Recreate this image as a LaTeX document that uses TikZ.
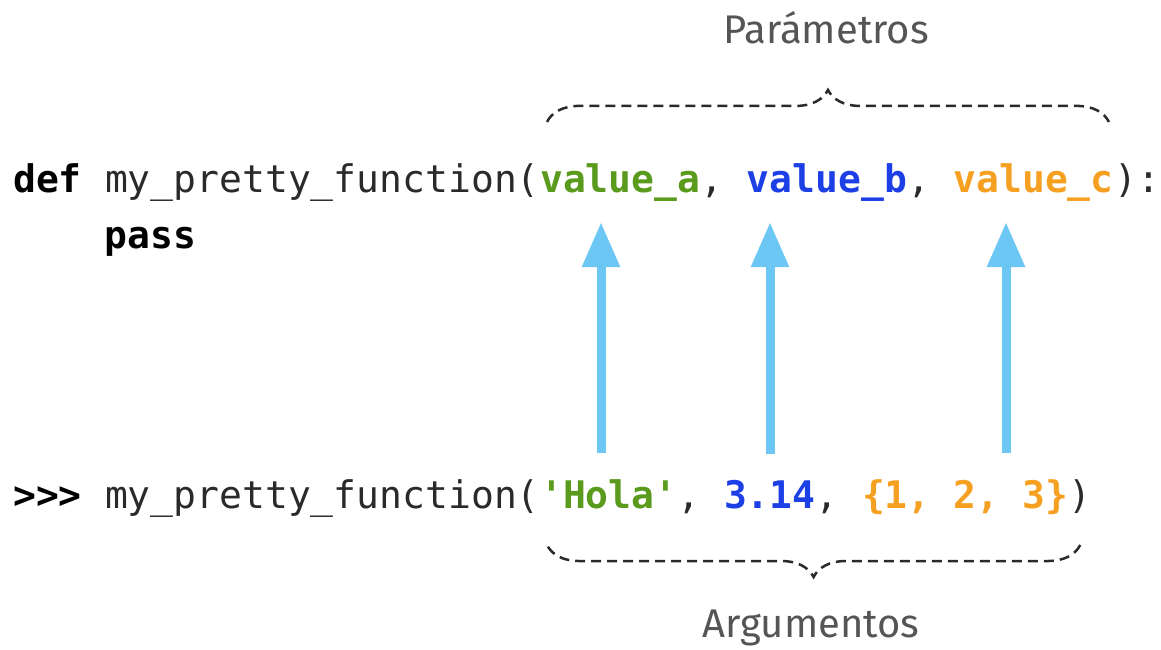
\documentclass[tikz,border=0pt]{standalone}
\usepackage{fontspec}
\newfontfamily\codefont{DejaVu Sans Mono}
\newfontfamily\handfont{Fira Sans}
\usepackage{xcolor}
\usepackage{tikz}
\usetikzlibrary{arrows.meta,positioning,calc,decorations.pathreplacing}

\definecolor{pgreen}{HTML}{5A9A1C}
\definecolor{pblue}{HTML}{1C3FE6}
\definecolor{porange}{HTML}{F6A021}
\definecolor{sky}{HTML}{6CC7F4}
\definecolor{ink}{HTML}{2A2A2A}
\definecolor{note}{HTML}{555555}

\begin{document}
\begin{tikzpicture}[x=1pt, y=-1pt,
code/.style={inner sep=0pt, anchor=base west, text=ink, font=\codefont\fontsize{38}{46}\selectfont},
kw/.style={code, text=black, font=\codefont\bfseries\fontsize{38}{46}\selectfont},
pa/.style={kw, text=pgreen},
pb/.style={kw, text=pblue},
pc/.style={kw, text=porange},
flow/.style={-{Triangle[width=36pt,length=45pt]}, line width=9pt, draw=sky, shorten <=26pt, shorten >=21pt},
brc/.style={decorate, decoration={brace, amplitude=32pt, aspect=0.5}, draw=ink, line width=2.5pt, dash pattern=on 10pt off 6pt},
hand/.style={inner sep=0pt, anchor=base, text=note, font=\handfont\fontsize{40}{48}\selectfont}
]
\useasboundingbox (0,0) rectangle (1161,649);
% Create the definition
\node[kw] (kwdef) at (13,192) {def};
\node[code, base right=0pt of kwdef] (fdef) {\hphantom{x}my\_pretty\_function(};
\node[pa, base right=0pt of fdef] (vala) {value\_a};
\node[code, base right=0pt of vala] (sepa) {,\hphantom{x}};
\node[pb, base right=0pt of sepa] (valb) {value\_b};
\node[code, base right=0pt of valb] (sepb) {,\hphantom{x}};
\node[pc, base right=0pt of sepb] (valc) {value\_c};
\node[code, base right=0pt of valc] (cdef) {):};
\node[kw] (kwpass) at (104.6,248) {pass};
% Create the call
\node[kw] (prompt) at (13,508) {>{}>{}>};
\node[code, base right=0pt of prompt] (fcall) {\hphantom{x}my\_pretty\_function(};
\node[pa, base right=0pt of fcall] (hola) {\textquotesingle Hola\textquotesingle};
\node[code, base right=0pt of hola] (sepc) {,\hphantom{x}};
\node[pb, base right=0pt of sepc] (argb) {3.14};
\node[code, base right=0pt of argb] (sepd) {,\hphantom{x}};
\node[pc, base right=0pt of sepd] (argc) {\{1, 2, 3\}};
\node[code, base right=0pt of argc] (ccall) {)};
% Create the arrows
\coordinate (xa) at (601,0); \coordinate (xb) at (770,0); \coordinate (xc) at (1006,0);
\draw[flow] (hola.north -| xa) -- (vala.south -| xa);
\draw[flow] (argb.north -| xb) -- (valb.south -| xb);
\draw[flow] (argc.north -| xc) -- (valc.south -| xc);
% Create the braces
\draw[brc] ([shift={(7,-41)}]vala.north west) -- ([shift={(-5,-41)}]valc.north east);
\draw[brc] ([shift={(12,37)}]ccall.base west) -- ([shift={(7,37)}]hola.base west);
\node[hand] (params) at (826,43) {Parámetros};
\node[hand] (args) at (811,637) {Argumentos};
\end{tikzpicture}
\end{document}
